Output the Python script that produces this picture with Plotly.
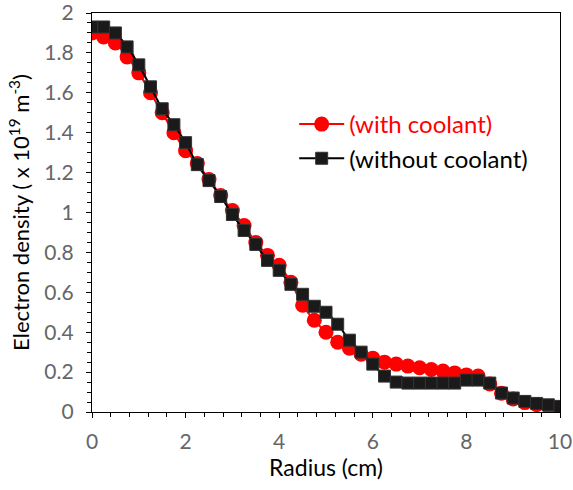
import plotly.graph_objects as go

# Radial position (cm)
radius = [i * 0.25 for i in range(41)]

# Electron density (x 10^19 m^-3) with coolant
with_coolant = [
    1.90, 1.88, 1.85, 1.78, 1.70, 1.60, 1.50, 1.40, 1.31, 1.245,
    1.165, 1.085, 1.01, 0.935, 0.85, 0.785, 0.735, 0.65, 0.535, 0.46,
    0.40, 0.35, 0.32, 0.29, 0.27, 0.25, 0.24, 0.23, 0.222, 0.213,
    0.205, 0.196, 0.186, 0.18, 0.14, 0.094, 0.065, 0.047, 0.037, 0.028,
    0.02,
]

# Electron density (x 10^19 m^-3) without coolant
without_coolant = [
    1.93, 1.93, 1.90, 1.83, 1.74, 1.63, 1.52, 1.44, 1.35, 1.24,
    1.16, 1.08, 0.99, 0.91, 0.84, 0.76, 0.71, 0.64, 0.59, 0.53,
    0.50, 0.44, 0.36, 0.30, 0.24, 0.18, 0.15, 0.145, 0.145, 0.145,
    0.145, 0.145, 0.16, 0.16, 0.145, 0.095, 0.07, 0.053, 0.043, 0.036,
    0.028,
]

FONT = "Lato"

fig = go.Figure()
fig.add_trace(go.Scatter(
    x=radius, y=with_coolant, mode="lines+markers",
    name='<span style="color:#ff0000">(with coolant)</span>',
    line=dict(color="#ff0000", width=2, shape="spline"),
    marker=dict(symbol="circle", size=15, color="#ff0000"),
))
fig.add_trace(go.Scatter(
    x=radius, y=without_coolant, mode="lines+markers",
    name="(without coolant)",
    line=dict(color="#000000", width=2, shape="spline"),
    marker=dict(symbol="square", size=12, color="#1a1a1a",
                line=dict(color="#333333", width=1)),
))

axis_common = dict(
    showline=True, linecolor="#000000", linewidth=1.3, mirror=True,
    showgrid=False, zeroline=False, automargin=False,
    ticklabeloverflow="allow",
    ticks="outside", ticklen=5, tickcolor="#000000", tickwidth=1,
    tickfont=dict(family=FONT, size=21, color="#666666"),
)

fig.update_xaxes(
    range=[0, 10], dtick=2, tick0=0, ticklabelstandoff=6,
    minor=dict(dtick=0.4, ticks="outside", ticklen=4, tickcolor="#000000"),
    title=dict(text="Radius (cm)", font=dict(family=FONT, size=23, color="#000000"),
               standoff=6),
    **axis_common,
)
fig.update_yaxes(
    range=[0, 2], dtick=0.2, tick0=0, ticklabelstandoff=8,
    minor=dict(dtick=0.05, ticks="outside", ticklen=4, tickcolor="#000000"),
    title=dict(text="Electron density ( x 10<sup>19</sup> m<sup>-3</sup>)",
               font=dict(family=FONT, size=22, color="#000000"), standoff=8),
    **axis_common,
)

fig.update_layout(
    width=573, height=490,
    margin=dict(l=92, r=13, t=13, b=78),
    paper_bgcolor="#ffffff", plot_bgcolor="#ffffff",
    font=dict(family=FONT, size=22, color="#000000"),
    legend=dict(x=0.432, y=0.777, xanchor="left", yanchor="top",
                bgcolor="rgba(0,0,0,0)", font=dict(family=FONT, size=24),
                itemwidth=45, tracegroupgap=1),
)

fig.write_html("out.html")
